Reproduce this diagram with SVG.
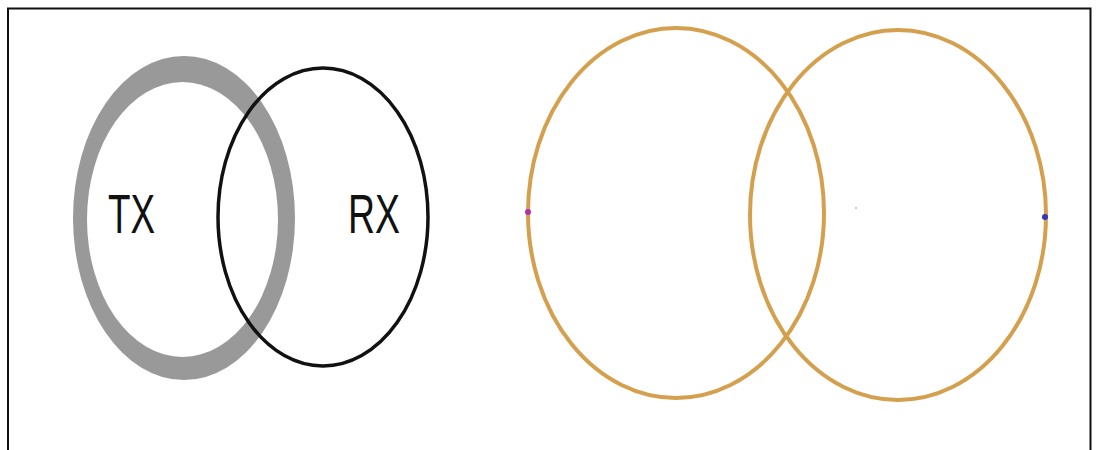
<svg xmlns="http://www.w3.org/2000/svg" width="1099" height="450" viewBox="0 0 1099 450">
<style>
.frame{stroke:#111;stroke-width:2;fill:none}
.label{font-family:"Liberation Sans",Arial,sans-serif;font-size:56px;fill:#111}
.orb{fill:none;stroke:#D4A04E;stroke-width:4}
</style>
<rect width="1099" height="450" fill="#fff"/>
<g id="frame">
<path class="frame" d="M8,452 V8.5 H1090.5 V452"/>
</g>
<g id="tx">
<path fill="#999" fill-rule="evenodd" d="M73,218 a111,162 0 1,0 222,0 a111,162 0 1,0 -222,0 Z M87,219.5 a95.5,137.5 0 1,0 191,0 a95.5,137.5 0 1,0 -191,0 Z"/>
<text class="label" x="108" y="233" textLength="47" lengthAdjust="spacingAndGlyphs">TX</text>
</g>
<g id="rx">
<ellipse cx="323" cy="217" rx="105" ry="149" fill="none" stroke="#111" stroke-width="3.5"/>
<text class="label" x="348" y="233" textLength="52" lengthAdjust="spacingAndGlyphs">RX</text>
</g>
<g id="left-circle">
<ellipse class="orb" cx="676" cy="213" rx="148" ry="185"/>
<circle cx="528" cy="212" r="3" fill="#B030B0"/>
</g>
<g id="right-circle">
<ellipse class="orb" cx="898" cy="215" rx="148" ry="185"/>
<circle cx="1045" cy="217" r="3" fill="#3535C0"/>
</g>
<circle cx="856" cy="208" r="1" fill="#bbb"/>
</svg>
